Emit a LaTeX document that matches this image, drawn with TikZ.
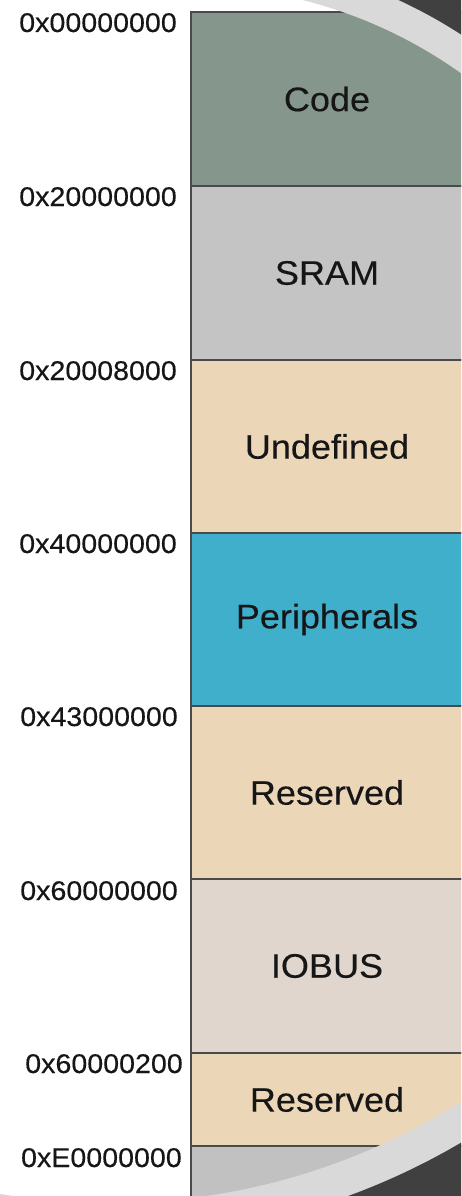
\documentclass[tikz,border=0pt]{standalone}
\usepackage{fontspec}
\setmainfont[FakeStretch=1.06,FakeBold=0.3]{Liberation Sans}
\definecolor{codec}{HTML}{85968D}
\definecolor{sramc}{HTML}{C4C4C4}
\definecolor{tanc}{HTML}{ECD6B8}
\definecolor{perc}{HTML}{3FAFCB}
\definecolor{ioc}{HTML}{E0D6CE}
\definecolor{lastc}{HTML}{C1C1C1}
\definecolor{linec}{HTML}{4A4A4A}
\definecolor{bandc}{HTML}{D9D9D9}
\definecolor{darkc}{HTML}{404040}
\definecolor{txtc}{HTML}{161616}
\tikzset{
  seg/.style={draw=linec, line width=2.6pt, minimum width=272pt, inner sep=0pt,
    text=txtc, font=\fontsize{34pt}{40pt}\selectfont},
  addr/.style={inner sep=0pt, text=txtc, font=\fontsize{27pt}{32pt}\selectfont}
}
\begin{document}
\begin{tikzpicture}[x=1pt,y=-1pt]
\useasboundingbox (0,0) rectangle (461,1196);
\fill[white] (0,0) rectangle (461,1196);
\begin{scope}
\clip (0,0) rectangle (461,1196);
\node[seg, fill=lastc, minimum height=69pt] (last) at (327,1180.5) {};
\node[seg, fill=codec, minimum height=174pt] (code) at (327,99) {Code};
\node[seg, fill=sramc, minimum height=174pt] (sram) at (327,273) {SRAM};
\node[seg, fill=tanc, minimum height=173pt] (undef) at (327,446.5) {Undefined};
\node[seg, fill=perc, minimum height=173pt] (periph) at (327,619.5) {Peripherals};
\node[seg, fill=tanc, minimum height=173pt] (res1) at (327,792.5) {Reserved};
\node[seg, fill=ioc, minimum height=174pt] (iobus) at (327,966) {IOBUS};
\node[seg, fill=tanc, minimum height=93pt] (res2) at (327,1099.5) {Reserved};
\end{scope}
\node[addr, anchor=base east] (a0) at (177,32) {0x00000000};
\node[addr, anchor=base east] (a1) at (177,206) {0x20000000};
\node[addr, anchor=base east] (a2) at (177,380) {0x20008000};
\node[addr, anchor=base east] (a3) at (177,553) {0x40000000};
\node[addr, anchor=base east] (a4) at (178,726) {0x43000000};
\node[addr, anchor=base east] (a5) at (178,900) {0x60000000};
\node[addr, anchor=base east] (a6) at (183,1073) {0x60000200};
\node[addr, anchor=base east] (a7) at (182,1167) {0xE0000000};
% slide decoration, top right
\begin{scope}
\clip (200,0) rectangle (461,170);
\fill[bandc, even odd rule] (195,-5) rectangle (470,175) (188,457) circle[radius=471pt];
\fill[darkc, even odd rule] (195,-5) rectangle (470,175) (188,457) circle[radius=503pt];
\end{scope}
% slide decoration, bottom
\begin{scope}
\clip (0,1000) rectangle (461,1196);
\fill[bandc, even odd rule] (-5,995) rectangle (470,1205) (110,545) circle[radius=658pt];
\fill[darkc, even odd rule] (-5,995) rectangle (470,1205) (110,545) circle[radius=693pt];
\end{scope}
\end{tikzpicture}
\end{document}
